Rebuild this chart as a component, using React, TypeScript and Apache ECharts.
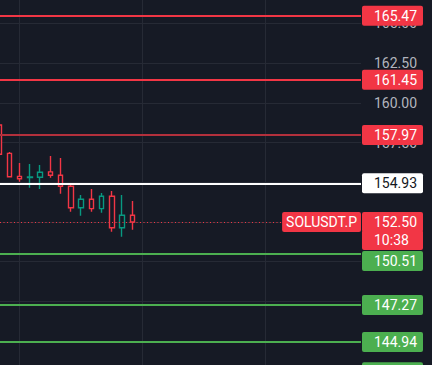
import React, { useEffect, useRef } from "react";
import * as echarts from "echarts";

// ---- data ----
const candleIndex = [0, 1, 2, 3, 4, 5, 6, 7, 8, 9, 10, 11, 12, 13];
const candleOpen = [158.6, 156.82, 155.37, 155.29, 155.31, 155.65, 155.44, 154.75, 153.4, 153.93, 153.34, 154.12, 152.14, 152.92];
const candleClose = [156.76, 155.35, 155.22, 155.33, 155.63, 155.44, 154.75, 153.4, 153.93, 153.34, 154.12, 152.14, 152.92, 152.5];
const candleLow = [156.7, 155.35, 155.03, 154.66, 154.58, 155.29, 154.28, 153.15, 152.89, 153.15, 153.08, 151.89, 151.57, 152.01];
const candleHigh = [158.8, 156.9, 156.21, 156.15, 156.09, 156.65, 156.53, 154.83, 154.2, 154.58, 154.32, 154.45, 154.2, 153.82];

const levelPrices = [165.47, 161.45, 157.97, 154.93, 150.51, 147.27, 144.94, 143.05];
const levelKinds = ["resistance", "resistance", "resistanceDim", "pivot", "support", "support", "support", "support"];

const lastPrice = 152.5;
const lastPriceCountdown = "10:38";
const symbolName = "SOLUSDT.P";

const timeGridIndex = [2, 14, 26];

const Y_MIN = 142.5;
const Y_MAX = 167.5;
const Y_STEP = 2.5;
const X_MIN = 0.093;
const X_MAX = 35.312;

// ---- styles ----
const W = 432;
const H = 365;
const GRID_TOP = -16.4;
const GRID_BOTTOM = -15.9;
const GRID_RIGHT = 71;
const BG = "#161a25";
const GRID_COLOR = "#262a35";
const RED = "#f23645";
const CANDLE_GREEN = "#089981";
const LEVEL_GREEN = "#4caf50";
const FONT = "Roboto";

const kindStyle: Record<string, { line: string; bg: string; text: string }> = {
  resistance: { line: RED, bg: RED, text: "#ffffff" },
  resistanceDim: { line: "#b3303c", bg: RED, text: "#ffffff" },
  pivot: { line: "#ffffff", bg: "#ffffff", text: "#131722" },
  support: { line: LEVEL_GREEN, bg: LEVEL_GREEN, text: "#ffffff" },
};

const GRID_H = H - GRID_TOP - GRID_BOTTOM;
const PX_PER_UNIT = GRID_H / (Y_MAX - Y_MIN);
const BOX_H = 20;
const SUB_H = 18;

function priceBox(bg: string, color: string, h: number = BOX_H) {
  return {
    backgroundColor: bg,
    color,
    fontSize: 14,
    fontFamily: FONT,
    height: h,
    lineHeight: h,
    width: 43,
    align: "left",
    padding: [0, 6, 0, 12],
    borderRadius: 2,
  };
}

export default function App() {
  const ref = useRef<HTMLDivElement>(null);

  useEffect(() => {
    if (!ref.current) return;
    const chart = echarts.init(ref.current, null, { renderer: "svg" });

    const candles = candleIndex.map((x, i) => [x, candleOpen[i], candleClose[i], candleLow[i], candleHigh[i]]);

    const lastBoxBelow = BOX_H / 2 + SUB_H;

    const levelLines = levelPrices.map((p, i) => {
      const st = kindStyle[levelKinds[i]];
      let spacer = 0;
      if (p < lastPrice) {
        const dist = (lastPrice - p) * PX_PER_UNIT;
        const overlap = lastBoxBelow + 1 - (dist - BOX_H / 2);
        if (overlap > 0) spacer = overlap * 2;
      }
      const txt = p.toFixed(2);
      return {
        yAxis: p,
        lineStyle: { color: st.line, width: 2, type: "solid", opacity: 1 },
        label: {
          show: true,
          position: "end",
          distance: [1, 0],
          formatter: spacer > 0 ? `{s| }\n{a|${txt}}` : `{a|${txt}}`,
          rich: {
            s: { height: spacer, lineHeight: spacer, fontSize: 1 },
            a: priceBox(st.bg, st.text),
          },
        },
      };
    });

    // countdown box under the last price box (drawn first, slightly overlapping)
    const countdownSpacer = BOX_H + SUB_H - 2;
    const countdownLine = {
      yAxis: lastPrice,
      lineStyle: { color: "rgba(0,0,0,0)", width: 0, opacity: 1 },
      label: {
        show: true,
        position: "end",
        distance: [1, 0],
        opacity: 1,
        formatter: `{s| }\n{b|${lastPriceCountdown}}`,
        rich: {
          s: { height: countdownSpacer, lineHeight: countdownSpacer, fontSize: 1 },
          b: priceBox(RED, "#ffffff", SUB_H + 2),
        },
      },
    };

    const lastLine = {
      yAxis: lastPrice,
      lineStyle: { color: RED, width: 1, type: [1, 2.5], opacity: 1 },
      label: {
        show: true,
        position: "end",
        distance: [1, 0],
        formatter: `{a|${lastPrice.toFixed(2)}}`,
        rich: { a: priceBox(RED, "#ffffff") },
      },
    };

    const symbolLine = {
      yAxis: lastPrice,
      lineStyle: { color: "rgba(0,0,0,0)", width: 0, opacity: 1 },
      label: {
        show: true,
        position: "insideEndTop",
        distance: [0, 0],
        verticalAlign: "middle",
        align: "right",
        opacity: 1,
        formatter: `{a|${symbolName}}`,
        rich: {
          a: {
            backgroundColor: RED,
            color: "#ffffff",
            fontSize: 14,
            fontFamily: FONT,
            height: BOX_H,
            lineHeight: BOX_H,
            padding: [0, 4, 0, 4],
            borderRadius: 2,
          },
        },
      },
    };

    chart.setOption({
      animation: false,
      backgroundColor: BG,
      grid: {
        left: 0,
        right: GRID_RIGHT,
        top: GRID_TOP,
        bottom: GRID_BOTTOM,
        containLabel: false,
        outerBoundsMode: "none",
      },
      xAxis: {
        type: "value",
        min: X_MIN,
        max: X_MAX,
        show: false,
      },
      yAxis: {
        type: "value",
        position: "right",
        min: Y_MIN,
        max: Y_MAX,
        interval: Y_STEP,
        scale: true,
        axisLine: { show: false },
        axisTick: { show: false },
        splitLine: { show: true, lineStyle: { color: GRID_COLOR, width: 1 } },
        axisLabel: {
          color: "#b2b5be",
          fontSize: 14,
          fontFamily: FONT,
          margin: 13,
          formatter: (v: number) => v.toFixed(2),
        },
      },
      series: [
        {
          type: "line",
          data: [],
          silent: true,
          markLine: {
            z: 1,
            silent: true,
            symbol: "none",
            animation: false,
            label: { show: false },
            lineStyle: { color: GRID_COLOR, width: 1, type: "solid" },
            data: timeGridIndex.map((x) => ({ xAxis: x })),
          },
        },
        {
          type: "candlestick",
          z: 2,
          silent: true,
          barWidth: 5,
          clip: true,
          data: candles,
          itemStyle: {
            color: BG,
            color0: BG,
            borderColor: CANDLE_GREEN,
            borderColor0: RED,
            borderColorDoji: CANDLE_GREEN,
            borderWidth: 1.4,
          },
          markLine: {
            z: 5,
            silent: true,
            symbol: "none",
            animation: false,
            data: [...levelLines, countdownLine, lastLine, symbolLine],
          },
        },
      ],
    });

    return () => chart.dispose();
  }, []);

  return (
    <div
      ref={ref}
      style={{ position: "fixed", left: 0, top: 0, width: W, height: H, background: BG }}
    />
  );
}
